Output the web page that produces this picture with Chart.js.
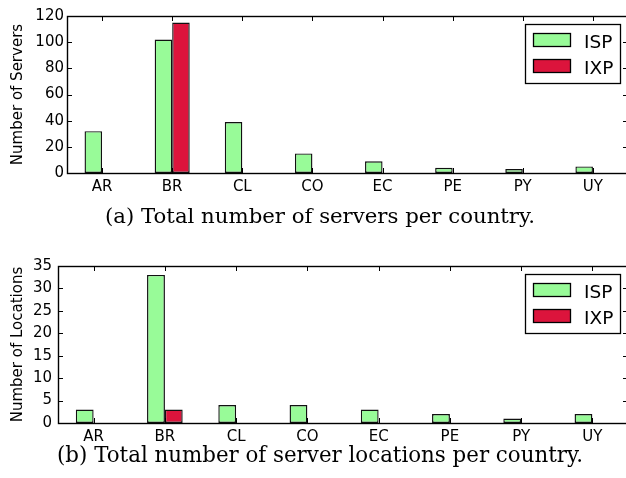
<!DOCTYPE html>
<html><head><meta charset="utf-8">
<script src="https://cdn.jsdelivr.net/npm/chart.js@4/dist/chart.umd.min.js"></script>
<style>
html,body{margin:0;padding:0;background:#fff;overflow:hidden;width:626px;height:478px;}
.wrap{position:absolute;left:0;}
canvas{display:block;}
</style></head><body>
<div class="wrap" style="top:0px"><canvas id="c1" width="630" height="250"></canvas></div>
<div class="wrap" style="top:250px"><canvas id="c2" width="630" height="228"></canvas></div>
<script>
const countries = ['AR','BR','CL','CO','EC','PE','PY','UY'];
const serversISP = [32,102,39,15,9,4,3,5];
const serversIXP = [0,115,0,0,0,0,0,0];
const locationsISP = [3,33,4,4,3,2,1,2];
const locationsIXP = [0,3,0,0,0,0,0,0];
const seriesNames = ['ISP','IXP'];
const serversTitle = 'Number of Servers';
const locationsTitle = 'Number of Locations';
const serversCaption = '(a) Total number of servers per country.';
const locationsCaption = '(b) Total number of server locations per country.';

const GREEN = '#98FB98', RED = '#DC143C';

const framePlugin = {
  id: 'frame',
  afterDatasetsDraw(chart, args, opts) {
    const {ctx, chartArea: a, scales: {x, y}} = chart;
    ctx.save();
    ctx.strokeStyle = '#000';
    ctx.lineWidth = 1;
    const L = 5;
    ctx.beginPath();
    y.ticks.forEach((t, i) => {
      const py = Math.round(y.getPixelForTick(i)) + 0.5;
      ctx.moveTo(a.left, py); ctx.lineTo(a.left + L, py);
      ctx.moveTo(a.right, py); ctx.lineTo(a.right - L, py);
    });
    x.ticks.forEach((t, i) => {
      const px = Math.round(x.getPixelForTick(i)) + 0.5;
      ctx.moveTo(px, a.top); ctx.lineTo(px, a.top + L);
      ctx.moveTo(px, a.bottom); ctx.lineTo(px, a.bottom - L);
    });
    ctx.stroke();
    ctx.lineWidth = 1.4;
    ctx.strokeRect(Math.round(a.left) + 0.5, Math.round(a.top) + 0.5, Math.round(a.right - a.left), Math.round(a.bottom - a.top));

    // legend
    const bw = 95, bh = 59;
    const bx = Math.round(a.right) - 8 - bw, by = Math.round(a.top) + 8;
    ctx.fillStyle = '#fff';
    ctx.fillRect(bx, by, bw, bh);
    ctx.lineWidth = 1.3;
    ctx.strokeRect(bx + 0.5, by + 0.5, bw, bh);
    ctx.font = '18.5px "DejaVu Sans"';
    ctx.textBaseline = 'alphabetic';
    ctx.textAlign = 'left';
    chart.data.datasets.forEach((ds, i) => {
      const sy = by + 9 + i * 26;
      ctx.fillStyle = ds.backgroundColor;
      ctx.fillRect(bx + 8, sy, 37, 13);
      ctx.strokeRect(bx + 8.5, sy + 0.5, 37, 13);
      ctx.fillStyle = '#000';
      ctx.fillText(ds.label, bx + 59, sy + 14.5);
    });

    // caption
    const cap = opts.caption;
    ctx.font = '20px "DejaVu Serif"';
    const w = ctx.measureText(cap.text).width;
    const size = 20 * cap.width / w;
    ctx.font = size.toFixed(2) + 'px "DejaVu Serif"';
    ctx.textAlign = 'center';
    ctx.fillText(cap.text, 320, cap.y);
    ctx.restore();
  }
};

function makeChart(id, isp, ixp, title, yMax, step, yPad, yWidth, padBottom, caption) {
  return new Chart(document.getElementById(id), {
    type: 'bar',
    data: {
      labels: countries,
      datasets: [
        {label: seriesNames[0], data: isp, backgroundColor: GREEN, borderColor: '#111', borderWidth: 1.4, borderSkipped: false, barPercentage: 1, categoryPercentage: 0.5},
        {label: seriesNames[1], data: ixp, backgroundColor: RED, borderColor: '#111', borderWidth: 1.4, borderSkipped: false, barPercentage: 1, categoryPercentage: 0.5}
      ]
    },
    options: {
      responsive: false,
      animation: false,
      devicePixelRatio: 1,
      layout: {padding: {left: 0, right: 2, top: 16, bottom: padBottom}},
      plugins: {legend: {display: false}, tooltip: {enabled: false}, frame: {caption}},
      scales: {
        x: {
          grid: {display: false, drawTicks: false},
          border: {display: false},
          ticks: {font: {family: 'DejaVu Sans', size: 15}, color: '#000', padding: 5, maxRotation: 0},
          afterFit: s => { s.height = 27; }
        },
        y: {
          min: 0, max: yMax,
          grid: {display: false, drawTicks: false},
          border: {display: false},
          ticks: {stepSize: step, font: {family: 'DejaVu Sans', size: 15}, color: '#000', padding: yPad},
          title: {display: true, text: title, color: '#000', font: {family: 'DejaVu Sans', size: 15}, padding: {top: 9, bottom: 0}},
          afterFit: s => { s.width = yWidth; }
        }
      }
    },
    plugins: [framePlugin]
  });
}

makeChart('c1', serversISP, serversIXP, serversTitle, 120, 20, 3, 67, 50, {text: serversCaption, width: 430, y: 223});
makeChart('c2', locationsISP, locationsIXP, locationsTitle, 35, 5, 6, 58, 28, {text: locationsCaption, width: 526, y: 212});
</script>
</body></html>
